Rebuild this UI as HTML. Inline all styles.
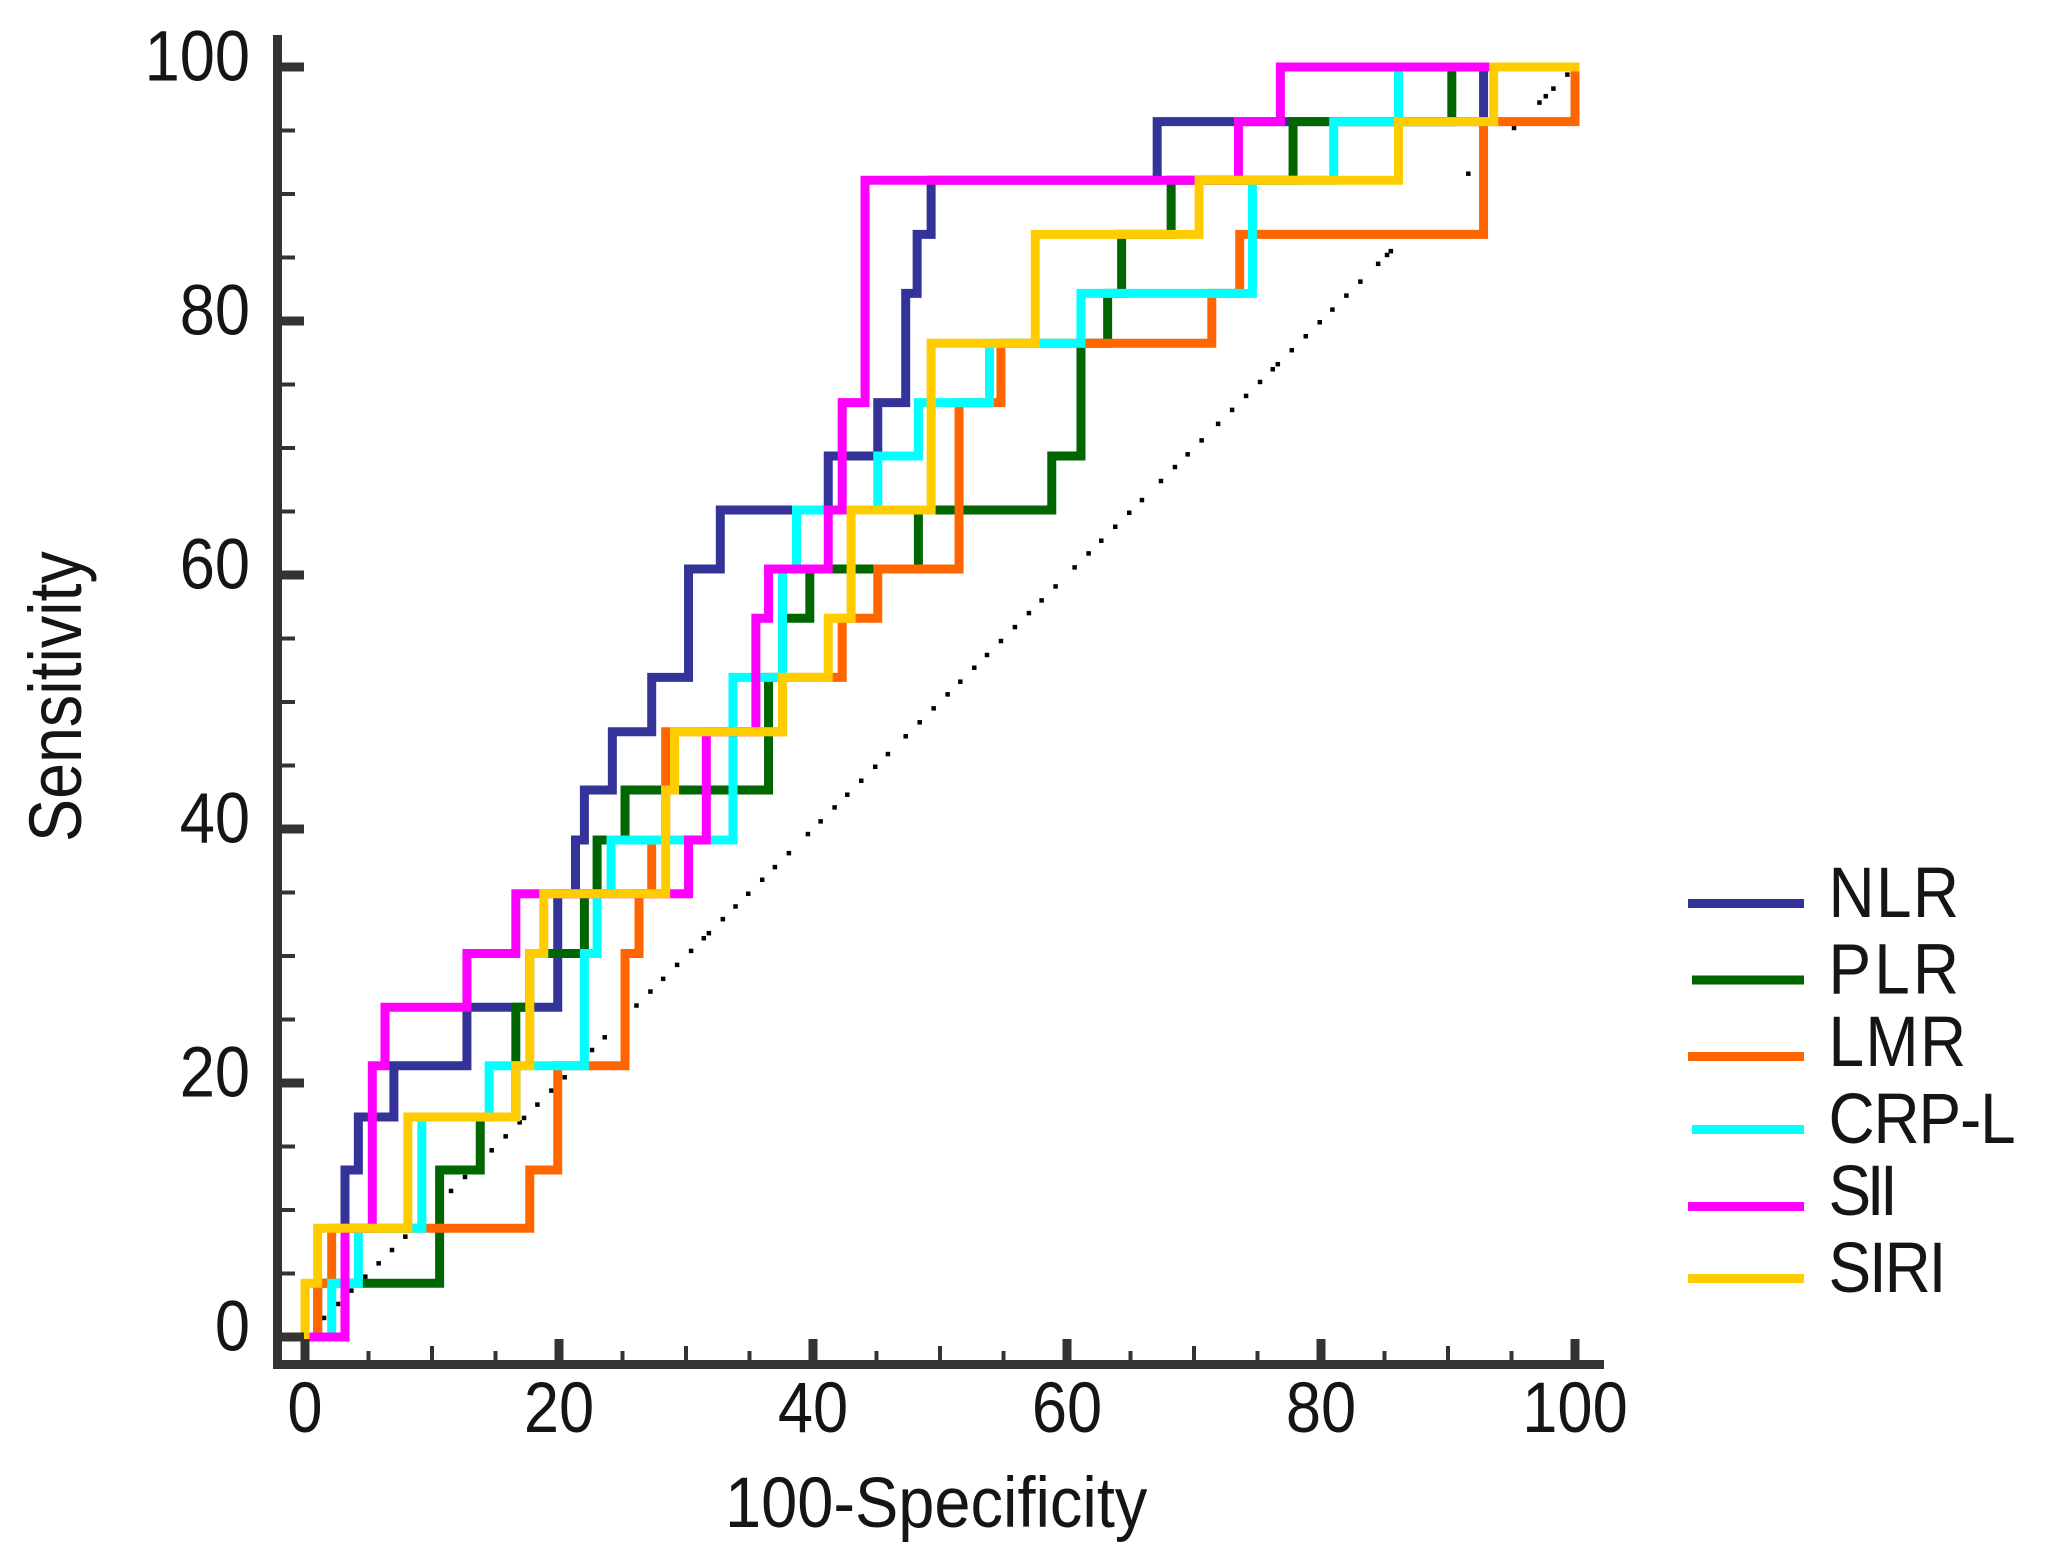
<!DOCTYPE html>
<html lang="en">
<head>
<meta charset="utf-8">
<title>ROC curves</title>
<style>
html,body{margin:0;padding:0;background:#fff;}
svg{display:block;}
text{font-family:"Liberation Sans",Arial,sans-serif;fill:#151515;font-size:71px;}
</style>
</head>
<body>
<svg id="chart" xmlns="http://www.w3.org/2000/svg" width="2056" height="1563" viewBox="0 0 2056 1563">
  <rect x="0" y="0" width="2056" height="1563" fill="#ffffff"/>
  <g id="dots"></g>
  <g id="series"></g>
  <g id="axes"></g>
  <text transform="translate(725,1527) scale(0.915,1)">100-Specificity</text>
  <text transform="translate(81,842) rotate(-90) scale(0.91,1.04)">Sensitivity</text>
  <g>
    <g>
      <rect x="1688" y="899" width="116" height="9" fill="#333399"/>
      <text transform="translate(1828.500,917) scale(0.9,1)" textLength="145">NLR</text>
    </g>
    <g>
      <rect x="1692" y="975.500" width="112" height="9" fill="#006600"/>
      <text transform="translate(1828.500,993.500) scale(0.9,1)" textLength="145">PLR</text>
    </g>
    <g>
      <rect x="1688" y="1052" width="116" height="9" fill="#FF6600"/>
      <text transform="translate(1828.500,1066) scale(0.9,1)" textLength="153">LMR</text>
    </g>
    <g>
      <rect x="1692" y="1125" width="112" height="9" fill="#00FFFF"/>
      <text transform="translate(1828.500,1143) scale(0.9,1)" textLength="208">CRP-L</text>
    </g>
    <g>
      <rect x="1688" y="1202" width="116" height="9" fill="#FF00FF"/>
      <text transform="translate(1828.500,1215) scale(0.9,1)" textLength="77">SII</text>
    </g>
    <g>
      <rect x="1688" y="1274" width="116" height="9" fill="#FFCC00"/>
      <text transform="translate(1828.500,1292) scale(0.9,1)" textLength="131">SIRI</text>
    </g>
  </g>
</svg>
<script>
const xTickLabels = [0, 20, 40, 60, 80, 100];
const yTickLabels = [0, 20, 40, 60, 80, 100];
const minorTicks = [5, 10, 15, 25, 30, 35, 45, 50, 55, 65, 70, 75, 85, 90, 95];

const nlrX = [3.15, 4.2, 7.0, 12.75, 19.9, 21.3, 22, 24.2, 27.3, 30.2, 32.7, 41.2, 45.1, 47.3, 48.2, 49.3, 67.1, 92.8, 100];
const nlrY = [13.15, 17.32, 21.36, 25.96, 34.9, 39.13, 43.07, 47.66, 51.94, 60.47, 65.12, 69.37, 73.57, 82.18, 86.82, 91.08, 95.7, 100, 100];
const plrX = [1, 10.6, 13.8, 16.6, 17.7, 22, 23, 25.2, 36.5, 37.6, 39.75, 48.3, 58.8, 61.1, 63.2, 64.3, 68.2, 77.8, 90.3, 100];
const plrY = [4.23, 13.15, 17.32, 25.96, 30.2, 34.9, 39.13, 43.07, 51.94, 56.59, 60.47, 65.12, 69.37, 78.25, 82.18, 86.82, 91.08, 95.7, 100, 100];
const lmrX = [1, 2.1, 17.7, 19.9, 25.2, 26.3, 27.3, 28.4, 37.6, 42.3, 45.1, 51.5, 54.8, 71.4, 73.6, 92.8, 100];
const lmrY = [4.23, 8.56, 13.15, 21.36, 30.2, 34.9, 39.13, 47.66, 51.94, 56.59, 60.47, 73.57, 78.25, 82.18, 86.82, 95.7, 100];
const crpX = [2.1, 4.2, 9.2, 14.5, 22, 23, 24.1, 33.7, 37.6, 38.7, 45.1, 48.3, 53.9, 61.1, 74.6, 81, 86.1, 100];
const crpY = [4.23, 8.56, 17.32, 21.36, 30.2, 34.9, 39.13, 51.94, 60.47, 65.12, 69.37, 73.57, 78.25, 82.18, 91.08, 95.7, 100, 100];
const siiX = [3.15, 5.3, 6.3, 12.75, 16.6, 30.2, 31.6, 35.5, 36.5, 41.2, 42.3, 44.1, 73.5, 76.8, 100];
const siiY = [8.56, 21.36, 25.96, 30.2, 34.9, 39.13, 47.66, 56.59, 60.47, 65.12, 73.57, 91.08, 95.7, 100, 100];
const siriX = [0, 1, 8.1, 16.6, 17.7, 18.8, 28.4, 29.1, 37.6, 41.2, 43, 49.3, 57.5, 70.4, 86.1, 93.6, 100];
const siriY = [4.23, 8.56, 17.32, 21.36, 30.2, 34.9, 43.07, 47.66, 51.94, 56.59, 65.12, 78.25, 86.82, 91.08, 95.7, 100, 100];

const diagonalDots = [1.5, 2.6, 3.65, 4.75, 5.8, 6.85, 7.9, 11.5, 12.6, 14.7, 15.8, 16.9, 17.25, 18.3, 19.4, 20.45, 22.6, 23.6, 26.1, 27.2, 28.2, 29.3, 30.4, 31.4, 31.8, 32.9, 33.9, 34.9, 36, 37, 38.1, 39.6, 40.6, 41.7, 42.7, 43.8, 44.9, 45.9, 47.3, 48.4, 49.5, 50.6, 51.6, 52.7, 53.7, 54.8, 55.9, 57, 58, 59.1, 60.6, 61.7, 62.7, 63.8, 64.9, 65.9, 67.4, 68.5, 69.5, 70.6, 71.9, 73, 74.1, 75.2, 76.2, 76.6, 77.7, 78.8, 79.9, 80.9, 82, 83.1, 84.5, 85.2, 85.5, 91.6, 95.2, 97.2, 97.7, 98.3, 99.4];

const NS = 'http://www.w3.org/2000/svg';
const xPx = function (v) { return 305 + 12.7 * v; };
const yPx = function (v) { return 1337 - 12.7 * v; };

function make(tag, parent) {
  const el = document.createElementNS(NS, tag);
  parent.appendChild(el);
  return el;
}
function box(el, x, y, w, h, fill) {
  el.setAttribute('x', x);
  el.setAttribute('y', y);
  el.setAttribute('width', w);
  el.setAttribute('height', h);
  el.setAttribute('fill', fill);
}

const dotsGroup = document.getElementById('dots');
diagonalDots.forEach(function (v) {
  const dot = make('rect', dotsGroup);
  
  
  box(dot, xPx(v) - 2.25, yPx(v) - 2.25, 4.5, 4.5, '#000000');
});

function drawCurve(xs, ys, color, name) {
  let d = 'M' + xPx(0) + ' ' + yPx(0);
  xs.forEach(function (x, i) {
    d += ' H' + xPx(x) + ' V' + yPx(ys[i]);
  });
  const path = make('path', document.getElementById('series'));
  
  
  path.setAttribute('d', d);
  path.setAttribute('fill', 'none');
  path.setAttribute('stroke', color);
  path.setAttribute('stroke-width', '9');
  path.setAttribute('stroke-linejoin', 'miter');
  path.setAttribute('stroke-linecap', 'square');
}
drawCurve(nlrX, nlrY, '#333399', 'curve-nlr');
drawCurve(plrX, plrY, '#006600', 'curve-plr');
drawCurve(lmrX, lmrY, '#FF6600', 'curve-lmr');
drawCurve(crpX, crpY, '#00FFFF', 'curve-crp-l');
drawCurve(siiX, siiY, '#FF00FF', 'curve-sii');
drawCurve(siriX, siriY, '#FFCC00', 'curve-siri');

const axes = document.getElementById('axes');
const yLine = make('rect', axes);


box(yLine, 273, 35, 9, 1334, '#333333');
const xLine = make('rect', axes);


box(xLine, 277, 1360, 1327, 9, '#333333');

xTickLabels.forEach(function (v) {
  const tick = make('rect', axes);
  
  
  box(tick, xPx(v) - 4.5, 1339, 9, 22, '#333333');
  const label = make('text', axes);
  
  
  label.setAttribute('text-anchor', 'middle');
  label.setAttribute('transform', 'translate(' + xPx(v) + ',1432) scale(0.89,1)');
  label.textContent = v;
});
yTickLabels.forEach(function (v) {
  const tick = make('rect', axes);
  
  
  box(tick, 281, yPx(v) - 4.5, 23, 9, '#333333');
  const label = make('text', axes);
  
  
  label.setAttribute('text-anchor', 'end');
  label.setAttribute('transform', 'translate(250,' + (yPx(v) + 13.5) + ') scale(0.89,1)');
  label.textContent = v;
});
minorTicks.forEach(function (v) {
  const xTick = make('rect', axes);
  
  
  const top = v % 10 === 0 ? 1346 : 1351;
  box(xTick, xPx(v) - 2, top, 4, 1361 - top, '#333333');
  const yTick = make('rect', axes);
  
  
  box(yTick, 281, yPx(v) - 2, 14, 4, '#333333');
});
</script>
</body>
</html>
